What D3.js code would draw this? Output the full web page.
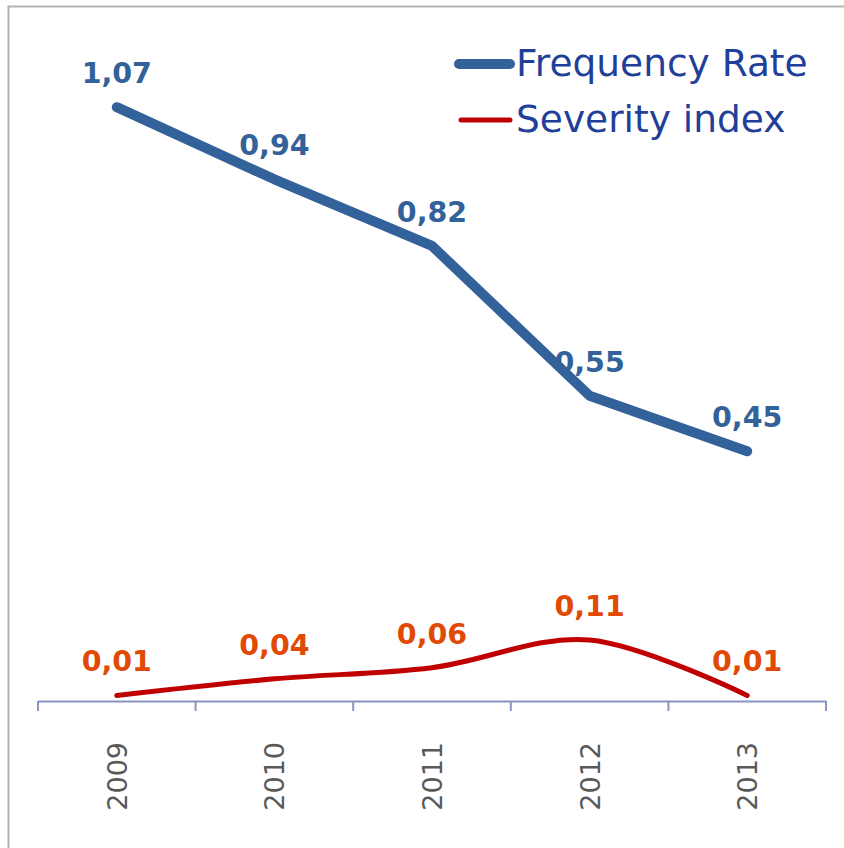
<!DOCTYPE html>
<html>
<head>
<meta charset="utf-8">
<script src="https://cdn.jsdelivr.net/npm/d3@7"></script>
<style>
  html, body { margin: 0; padding: 0; background: #fff; }
  svg { display: block; }
</style>
</head>
<body>
<div id="chart"></div>
<script>
  var
    width = 844,
    height = 848;

  // data
  var years = ['2009', '2010', '2011', '2012', '2013'];
  var frequencyRate = [1.07, 0.94, 0.82, 0.55, 0.45];
  var severityIndex = [0.01, 0.04, 0.06, 0.11, 0.01];
  var seriesNames = ['Frequency Rate', 'Severity index'];

  var blue = '#33619a',
    red = '#c00000',
    orange = '#e04a05';

  var svg = d3.select('#chart').append('svg')
    .attr('width', width)
    .attr('height', height);

  // outer frame (only top and left show in the picture)
  svg.append('rect')
    .attr('x', 8.5).attr('y', 6.5)
    .attr('width', 900).attr('height', 900)
    .attr('fill', 'none')
    .attr('stroke', '#b3b3b3')
    .attr('stroke-width', 2);

  var x = d3.scaleBand()
    .domain(years)
    .range([38, 826])
    .padding(0);

  var y = d3.scaleLinear()
    .domain([0, 1.2])
    .range([701, 35]);

  var cx = function(d, i) { return x(years[i]) + x.bandwidth() / 2; };

  // category axis
  var axis = d3.axisBottom(x).tickSize(0).tickFormat('');
  var gx = svg.append('g')
    .attr('transform', 'translate(0,701)')
    .call(axis);
  gx.select('.domain').attr('stroke', '#8b93c2').attr('stroke-width', 2);

  // tick marks on band edges
  var edges = years.map(function(d) { return x(d); }).concat([x.range()[1]]);
  gx.selectAll('line.edge')
    .data(edges)
    .enter().append('line')
    .attr('class', 'edge')
    .attr('x1', function(d) { return d; })
    .attr('x2', function(d) { return d; })
    .attr('y1', 0)
    .attr('y2', 10)
    .attr('stroke', '#8b93c2')
    .attr('stroke-width', 2);

  // rotated year labels
  svg.append('g').selectAll('text')
    .data(years)
    .enter().append('text')
    .attr('transform', function(d) {
      return 'translate(' + (x(d) + x.bandwidth() / 2 + 10) + ',742) rotate(-90)';
    })
    .attr('text-anchor', 'end')
    .attr('font-family', 'DejaVu Sans, Verdana, sans-serif')
    .attr('font-size', 27)
    .attr('fill', '#595959')
    .text(function(d) { return d; });

  // frequency rate line
  var freqLine = d3.line()
    .x(cx)
    .y(function(d) { return y(d); });

  svg.append('path')
    .datum(frequencyRate)
    .attr('d', freqLine)
    .attr('fill', 'none')
    .attr('stroke', blue)
    .attr('stroke-width', 10)
    .attr('stroke-linecap', 'round')
    .attr('stroke-linejoin', 'round');

  // severity index line (smoothed)
  var sevLine = d3.line()
    .x(cx)
    .y(function(d) { return y(d); })
    .curve(d3.curveCardinal);

  svg.append('path')
    .datum(severityIndex)
    .attr('d', sevLine)
    .attr('fill', 'none')
    .attr('stroke', red)
    .attr('stroke-width', 5)
    .attr('stroke-linecap', 'round');

  var fmt = function(v) { return d3.format('.2f')(v).replace('.', ','); };

  // data labels
  svg.append('g').selectAll('text')
    .data(frequencyRate)
    .enter().append('text')
    .attr('x', cx)
    .attr('y', function(d) { return y(d) - 24; })
    .attr('text-anchor', 'middle')
    .attr('font-family', 'DejaVu Sans, Verdana, sans-serif')
    .attr('font-weight', 'bold')
    .attr('font-size', 28.5)
    .attr('fill', blue)
    .text(fmt);

  svg.append('g').selectAll('text')
    .data(severityIndex)
    .enter().append('text')
    .attr('x', cx)
    .attr('y', function(d) { return y(d) - 24; })
    .attr('text-anchor', 'middle')
    .attr('font-family', 'DejaVu Sans, Verdana, sans-serif')
    .attr('font-weight', 'bold')
    .attr('font-size', 28.5)
    .attr('fill', orange)
    .text(fmt);

  // legend
  var legend = svg.append('g');
  var legendRows = [
    { name: seriesNames[0], color: blue, w: 10, x1: 459, y: 64, ty: 76 },
    { name: seriesNames[1], color: red, w: 5, x1: 461, y: 120, ty: 132 }
  ];
  legendRows.forEach(function(r) {
    legend.append('line')
      .attr('x1', r.x1).attr('x2', 510)
      .attr('y1', r.y).attr('y2', r.y)
      .attr('stroke', r.color)
      .attr('stroke-width', r.w)
      .attr('stroke-linecap', 'round');
    legend.append('text')
      .attr('x', 516)
      .attr('y', r.ty)
      .attr('font-family', 'DejaVu Sans, Verdana, sans-serif')
      .attr('font-size', 37.5)
      .attr('fill', '#1f3f99')
      .text(r.name);
  });
</script>
</body>
</html>
